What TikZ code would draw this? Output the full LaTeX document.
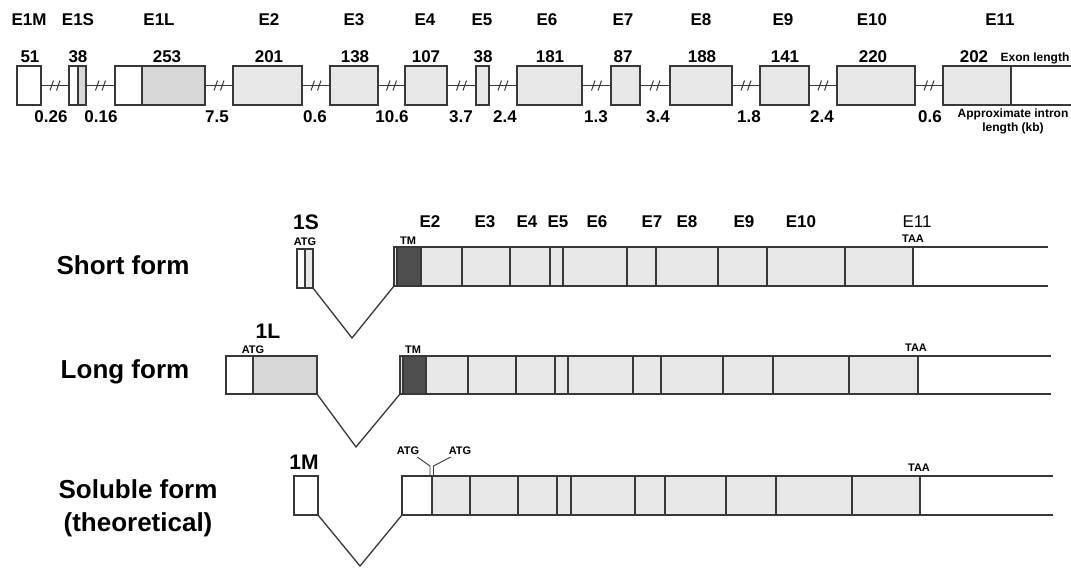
\documentclass[tikz,border=0pt]{standalone}
\usepackage{fontspec}
\setmainfont{Liberation Sans}
\usetikzlibrary{fit}
\definecolor{exfill}{HTML}{E8E8E8}
\definecolor{exdark}{HTML}{D7D7D7}
\definecolor{tmfill}{HTML}{4E4E4E}
\definecolor{lnc}{HTML}{383838}
\newcommand\exbox[6]{\node[#6, fit={(#2,#4) (#3,#5)}] (#1) {};}
\newcommand\intr[2]{%
  \draw[ln] (#1.east) -- coordinate (m#1) (#2.west);
  \draw[ln, line width=1pt] ([shift={(-5,5)}]m#1) -- ([shift={(-1.5,-5)}]m#1);
  \draw[ln, line width=1pt] ([shift={(1.5,5)}]m#1) -- ([shift={(5,-5)}]m#1);}
\begin{document}
\begin{tikzpicture}[x=1pt,y=-1pt,
  ln/.style={line width=1.3pt, draw=lnc},
  bx/.style={ln, inner sep=0pt, outer sep=0pt},
  wbx/.style={bx, fill=white},
  gbx/.style={bx, fill=exfill},
  dbx/.style={bx, fill=exdark},
  ttl/.style={font=\fontsize{17}{20}\selectfont\bfseries, inner sep=0pt},
  num/.style={font=\fontsize{17}{20}\selectfont\bfseries, inner sep=0pt},
  sml/.style={font=\fontsize{12}{14}\selectfont\bfseries, inner sep=0pt},
  form/.style={font=\fontsize{26}{33}\selectfont\bfseries, inner sep=0pt},
  big/.style={font=\fontsize{21}{24}\selectfont\bfseries, inner sep=0pt},
  tiny/.style={font=\fontsize{11}{12}\selectfont\bfseries, inner sep=0pt},
  bote/.style={font=\fontsize{17}{20}\selectfont\bfseries, inner sep=0pt}]
\useasboundingbox (0,0) rectangle (1071,568);
\fill[white] (0,0) rectangle (1071,568);

% ---------------- top row: gene structure ----------------
\exbox{e1m}{17}{41}{66}{105}{wbx}
\exbox{e1sa}{69}{78}{66}{105}{wbx}
\exbox{e1sb}{78}{86}{66}{105}{dbx}
\exbox{e1la}{115}{142}{66}{105}{wbx}
\exbox{e1lb}{142}{205}{66}{105}{dbx}
\exbox{e2}{233}{302}{66}{105}{gbx}
\exbox{e3}{330}{378}{66}{105}{gbx}
\exbox{e4}{405}{447}{66}{105}{gbx}
\exbox{e5}{476}{489}{66}{105}{gbx}
\exbox{e6}{517}{582}{66}{105}{gbx}
\exbox{e7}{611}{640}{66}{105}{gbx}
\exbox{e8}{670}{732}{66}{105}{gbx}
\exbox{e9}{760}{809}{66}{105}{gbx}
\exbox{e10}{837}{915}{66}{105}{gbx}
\exbox{e11a}{943}{1011}{66}{105}{gbx}
\coordinate (e11end) at (1071,66);
\draw[ln] (e11a.north east) -- (e11end);
\draw[ln] (e11a.south east) -- (e11end |- e11a.south);

\intr{e1m}{e1sa}
\intr{e1sb}{e1la}
\intr{e1lb}{e2}
\intr{e2}{e3}
\intr{e3}{e4}
\intr{e4}{e5}
\intr{e5}{e6}
\intr{e6}{e7}
\intr{e7}{e8}
\intr{e8}{e9}
\intr{e9}{e10}
\intr{e10}{e11a}

\foreach \n/\x/\t in {a/29/E1M,b/78/E1S,c/159/E1L,d/269/E2,e/354/E3,f/425/E4,g/482/E5,h/547/E6,i/623/E7,j/701/E8,k/783/E9,l/872/E10,m/1000/E11}
  \node[ttl] (t\n) at (\x,20) {\t};
\foreach \n/\x/\t in {a/30/51,b/78/38,c/167/253,d/269/201,e/355/138,f/426/107,g/483/38,h/550/181,i/623/87,j/702/188,k/785/141,l/873/220,m/974/202}
  \node[num] (n\n) at (\x,57) {\t};
\foreach \n/\x/\t in {a/51/0.26,b/101/0.16,c/217/7.5,d/315/0.6,e/392/10.6,f/461/3.7,g/505/2.4,h/596/1.3,i/658/3.4,j/749/1.8,k/822/2.4,l/930/0.6}
  \node[num] (i\n) at (\x,117) {\t};
\node[sml] (exlen) at (1035,58) {Exon length};
\node[sml, align=center] (inlen) at (1013,121) {Approximate intron\\length (kb)};

% ---------------- Short form ----------------
\node[form] (fshort) at (123,265) {Short form};
\node[big] (l1s) at (306,222) {1S};
\node[tiny] (atg1s) at (305,242) {ATG};
\exbox{s1a}{297}{305}{249}{288}{wbx}
\exbox{s1b}{305}{313}{249}{288}{gbx}
\exbox{sbar}{394}{913}{247}{286}{gbx}
\fill[tmfill] (397,247.6) rectangle (421,285.4);
\foreach \x in {397,421,462,510,550,563,627,656,718,767,845}
  \draw[ln] (\x,247) -- (\x,286);
\coordinate (sv) at (352,338);
\draw[ln] (s1b.south east) -- (sv) -- (sbar.south west);
\coordinate (send) at (1048,247);
\draw[ln] (sbar.north east) -- (send);
\draw[ln] (sbar.south east) -- (send |- sbar.south);
\node[tiny] (tms) at (408,241) {TM};
\node[tiny] (taas) at (913,239) {TAA};
\foreach \n/\x/\t in {a/430/E2,b/485/E3,c/527/E4,d/558/E5,e/597/E6,f/652/E7,g/687/E8,h/744/E9,i/801/E10}
  \node[bote] (s\n) at (\x,222) {\t};
\node[font=\fontsize{17}{20}\selectfont, inner sep=0pt] (se11) at (917,222) {E11};

% ---------------- Long form ----------------
\node[form] (flong) at (125,372) {Long form};
\node[big] (l1l) at (268,331) {1L};
\node[tiny] (atg1l) at (253,350) {ATG};
\exbox{l1a}{226}{253}{356}{394}{wbx}
\exbox{l1b}{253}{317}{356}{394}{dbx}
\exbox{lbar}{400}{918}{356}{394}{gbx}
\fill[tmfill] (403,356.6) rectangle (426,393.4);
\foreach \x in {403,426,468,516,555,568,633,661,723,773,849}
  \draw[ln] (\x,356) -- (\x,394);
\coordinate (lv) at (356,447);
\draw[ln] (l1b.south east) -- (lv) -- (lbar.south west);
\coordinate (lend) at (1051,356);
\draw[ln] (lbar.north east) -- (lend);
\draw[ln] (lbar.south east) -- (lend |- lbar.south);
\node[tiny] (tml) at (413,350) {TM};
\node[tiny] (taal) at (916,348) {TAA};

% ---------------- Soluble form ----------------
\node[form, align=center] (fsol) at (138,508) {Soluble form\\(theoretical)};
\node[big] (l1m) at (304,462) {1M};
\exbox{m1}{294}{318}{476}{515}{wbx}
\exbox{mwhite}{402}{432}{476}{515}{wbx}
\exbox{mbar}{432}{920}{476}{515}{gbx}
\foreach \x in {470,518,557,571,635,665,726,776,852}
  \draw[ln] (\x,476) -- (\x,515);
\coordinate (mv) at (360,566);
\draw[ln] (m1.south east) -- (mv) -- (mwhite.south west);
\coordinate (mend) at (1053,476);
\draw[ln] (mbar.north east) -- (mend);
\draw[ln] (mbar.south east) -- (mend |- mbar.south);
\node[tiny] (atgl) at (408,451) {ATG};
\node[tiny] (atgr) at (460,451) {ATG};
\coordinate (yl) at (430,466);
\coordinate (yr) at (433.5,466);
\draw[ln, line width=0.9pt] ([shift={(-2,2)}]atgl.south east) -- (yl) -- (yl |- mbar.north);
\draw[ln, line width=0.9pt] ([shift={(2,2)}]atgr.south west) -- (yr) -- (yr |- mbar.north);
\node[tiny] (taam) at (919,468) {TAA};
\end{tikzpicture}
\end{document}
